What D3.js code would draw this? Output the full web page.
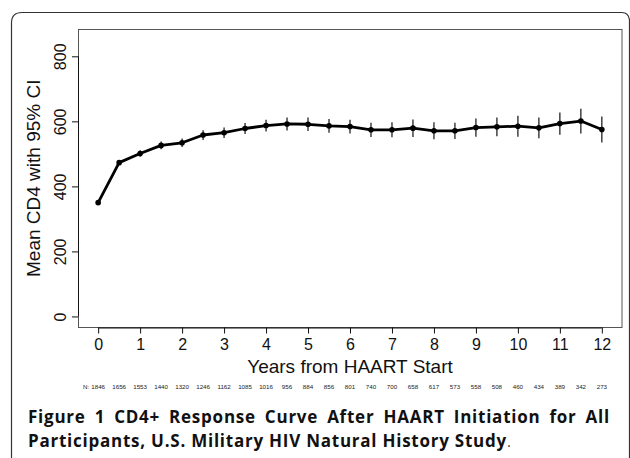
<!DOCTYPE html>
<html>
<head>
<meta charset="utf-8">
<script src="https://cdn.jsdelivr.net/npm/d3@7"></script>
<style>
  body { margin: 0; background: #fff; }
  svg { display: block; }
</style>
</head>
<body>
<svg id="chart" width="630" height="458"></svg>
<script>
// years since HAART start, mean CD4, half width of 95% CI, N at risk
const years = [0, 0.5, 1, 1.5, 2, 2.5, 3, 3.5, 4, 4.5, 5, 5.5, 6, 6.5, 7, 7.5, 8, 8.5, 9, 9.5, 10, 10.5, 11, 11.5, 12]
const meanCD4 = [350, 473, 501, 526, 534, 558, 565, 578, 587, 592, 591, 586, 584, 574, 574, 579, 571, 571, 581, 583, 585, 580, 593, 601, 575]
const ciHalf = [4, 7, 10, 12, 13, 15, 16, 17, 18, 20, 21, 21, 21, 22, 23, 27, 26, 25, 28, 29, 32, 32, 34, 38, 40]
const nAtRisk = [1846, 1656, 1553, 1440, 1320, 1246, 1162, 1085, 1016, 956, 884, 856, 801, 740, 700, 658, 617, 573, 558, 508, 460, 434, 389, 342, 273]
const xTicks = [0, 1, 2, 3, 4, 5, 6, 7, 8, 9, 10, 11, 12]
const yTicks = [0, 200, 400, 600, 800]

const svg = d3.select('#chart')
const font = 'Liberation Sans, Arial, sans-serif'

// outer figure frame (rounded top, runs off the bottom)
svg.append('path')
    .attr('d', 'M11.5,470 L11.5,23 Q11.5,12.5 22,12.5 L622,12.5 Q628.5,12.5 629.5,20 L629.5,470')
    .attr('fill', 'none')
    .attr('stroke', '#333')
    .attr('stroke-width', 1.2)

const plot = { left: 78, right: 622, top: 29, bottom: 327.5 }

// R style 4% padding around xlim c(0,12) and ylim c(0,850)
const x = d3.scaleLinear().domain([-0.48, 12.48]).range([plot.left, plot.right])
const y = d3.scaleLinear().domain([-34, 884]).range([plot.bottom, plot.top])

svg.append('rect')
    .attr('x', plot.left + 0.5)
    .attr('y', plot.top + 0.5)
    .attr('width', plot.right - plot.left - 0.5)
    .attr('height', plot.bottom - plot.top - 0.5)
    .attr('fill', 'none')
    .attr('stroke', '#555')
    .attr('stroke-width', 1)

const xAxis = svg.append('g')
    .attr('transform', `translate(0,${plot.bottom})`)
    .call(d3.axisBottom(x).tickValues(xTicks).tickSize(6).tickPadding(5).tickSizeOuter(0))
xAxis.select('.domain')
    .attr('d', `M${x(0)},0.5H${x(12)}`)
    .attr('stroke', '#111')
xAxis.selectAll('line').attr('stroke', '#111')
xAxis.selectAll('text')
    .attr('font-family', font)
    .attr('font-size', 16)
    .attr('fill', '#111')

const yAxis = svg.append('g')
    .attr('transform', `translate(${plot.left},0)`)
    .call(d3.axisLeft(y).tickValues(yTicks).tickSize(6).tickSizeOuter(0))
yAxis.select('.domain')
    .attr('d', `M0.5,${y(0)}V${y(800)}`)
    .attr('stroke', '#111')
yAxis.selectAll('line').attr('stroke', '#111')
yAxis.selectAll('text')
    .attr('transform', 'rotate(-90)')
    .attr('x', 0)
    .attr('y', -12)
    .attr('dy', 0)
    .attr('text-anchor', 'middle')
    .attr('font-family', font)
    .attr('font-size', 16)
    .attr('fill', '#111')

svg.append('text')
    .attr('transform', `translate(40,${(plot.top + plot.bottom) / 2}) rotate(-90)`)
    .attr('text-anchor', 'middle')
    .attr('font-family', font)
    .attr('font-size', 19)
    .attr('fill', '#111')
    .text('Mean CD4 with 95% CI')

svg.append('text')
    .attr('x', (x(0) + x(12)) / 2)
    .attr('y', 373)
    .attr('text-anchor', 'middle')
    .attr('font-family', font)
    .attr('font-size', 19)
    .attr('fill', '#111')
    .text('Years from HAART Start')

// N at risk row
svg.append('text')
    .attr('x', x(0) - 9)
    .attr('y', 389)
    .attr('text-anchor', 'end')
    .attr('font-family', font)
    .attr('font-size', 6.2)
    .attr('fill', '#222')
    .text('N:')
svg.selectAll('.n')
    .data(nAtRisk)
    .enter()
    .append('text')
    .attr('x', (d, i) => x(years[i]))
    .attr('y', 389)
    .attr('text-anchor', 'middle')
    .attr('font-family', font)
    .attr('font-size', 6.2)
    .attr('fill', '#222')
    .text(d => d)

const points = years.map((yr, i) => ({ yr, m: meanCD4[i], h: ciHalf[i] }))

svg.selectAll('.ci')
    .data(points)
    .enter()
    .append('line')
    .attr('x1', d => x(d.yr))
    .attr('x2', d => x(d.yr))
    .attr('y1', d => y(d.m - d.h))
    .attr('y2', d => y(d.m + d.h))
    .attr('stroke', '#111')
    .attr('stroke-width', 1.2)

svg.append('path')
    .datum(points)
    .attr('d', d3.line().x(d => x(d.yr)).y(d => y(d.m)))
    .attr('fill', 'none')
    .attr('stroke', '#000')
    .attr('stroke-width', 2.8)
    .attr('stroke-linejoin', 'round')

svg.selectAll('.pt')
    .data(points)
    .enter()
    .append('circle')
    .attr('cx', d => x(d.yr))
    .attr('cy', d => y(d.m))
    .attr('r', 2.8)
    .attr('fill', '#000')

// caption: first line justified, second line left aligned
const capFont = 'Open Sans, sans-serif'
const capSize = 17
const line1 = svg.append('text')
    .attr('x', 28)
    .attr('y', 423)
    .attr('font-family', capFont)
    .attr('font-size', capSize)
    .attr('font-weight', 'bold')
    .attr('fill', '#111')
    .text('Figure 1 CD4+ Response Curve After HAART Initiation for All')
const line2 = svg.append('text')
    .attr('x', 28)
    .attr('y', 446.5)
    .attr('font-family', capFont)
    .attr('font-size', capSize)
    .attr('fill', '#111')
line2.append('tspan')
    .attr('font-weight', 'bold')
    .text('Participants, U.S. Military HIV Natural History Study')
line2.append('tspan')
    .attr('font-weight', 'normal')
    .attr('font-size', 15)
    .attr('fill', '#444')
    .text('.')

// stretch letters a little so line 2 ends where the reference does, then justify line 1
const text2 = 'Participants, U.S. Military HIV Natural History Study'
const w2 = line2.select('tspan').node().getComputedTextLength()
const ls = Math.max(0, (479 - w2) / text2.length)
line1.attr('letter-spacing', ls)
line2.attr('letter-spacing', ls)
const w1 = line1.node().getComputedTextLength()
const gaps = line1.text().split(' ').length - 1
line1.attr('word-spacing', Math.max(0, (582 - w1) / gaps))
</script>
</body>
</html>
